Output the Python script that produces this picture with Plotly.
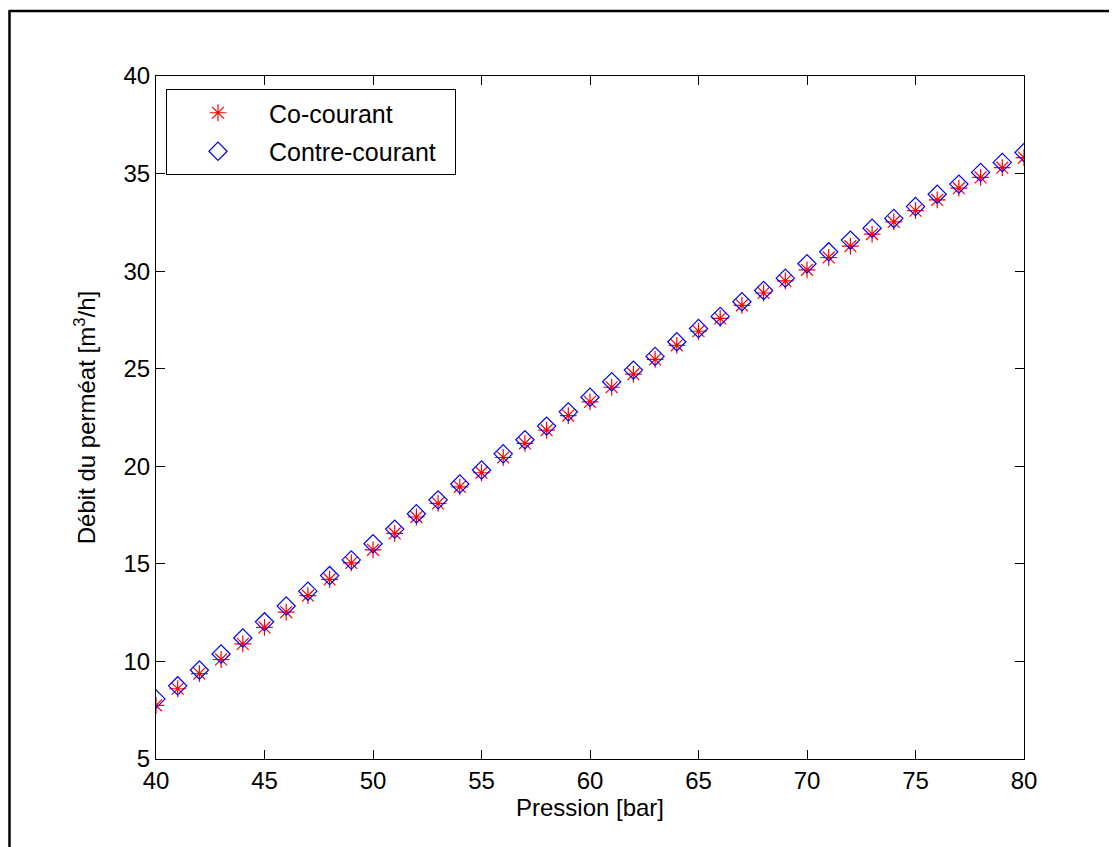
import plotly.graph_objects as go

pression = list(range(40, 81))
co_courant = [7.75, 8.60, 9.38, 10.10, 10.90, 11.74, 12.53, 13.37, 14.20, 15.05,
              15.72, 16.56, 17.40, 18.10, 18.95, 19.67, 20.45, 21.17, 21.85, 22.60,
              23.30, 24.05, 24.72, 25.48, 26.20, 26.92, 27.58, 28.25, 28.88, 29.50,
              30.07, 30.70, 31.28, 31.90, 32.52, 33.10, 33.65, 34.25, 34.80, 35.30,
              35.82]
contre_courant = [8.08, 8.75, 9.56, 10.38, 11.20, 12.03, 12.84, 13.60, 14.40, 15.20,
                  16.03, 16.78, 17.57, 18.28, 19.09, 19.81, 20.64, 21.36, 22.06, 22.79,
                  23.54, 24.33, 24.93, 25.63, 26.38, 27.06, 27.68, 28.43, 29.01, 29.64,
                  30.38, 30.99, 31.59, 32.20, 32.70, 33.31, 33.94, 34.46, 35.06, 35.57,
                  36.08]
x_ticks = [40, 45, 50, 55, 60, 65, 70, 75, 80]
y_ticks = [5, 10, 15, 20, 25, 30, 35, 40]

# page has an 8px body margin; figure coordinates below are page coords - 8
W, H = 1109, 839
L, R, T, B = 148, 1016, 68, 751

fig = go.Figure()
fig.add_trace(go.Scatter(
    x=pression, y=co_courant, mode="markers", name="Co-courant",
    legendgroup="a",
    marker=dict(symbol="asterisk-open", size=14, color="red",
                line=dict(color="red", width=1.2)),
))
fig.add_trace(go.Scatter(
    x=pression, y=contre_courant, mode="markers", name="Contre-courant\u00a0\u00a0",
    legendgroup="b",
    marker=dict(symbol="diamond-open", size=14, color="blue",
                line=dict(color="blue", width=1.2)),
))

def px2paper_x(px):
    return (px - L) / (R - L)

def px2paper_y(py):
    return (B - py) / (B - T)

font_family = "Liberation Sans, Arial, sans-serif"

axis_common = dict(
    showline=True, linecolor="black", linewidth=1, mirror="ticks",
    ticks="inside", ticklen=9, tickcolor="black", tickwidth=1,
    showgrid=False, zeroline=False,
    tickfont=dict(family=font_family, size=24, color="black"),
)

fig.update_layout(
    width=W, height=H,
    margin=dict(l=L, r=W - R, t=T, b=H - B, pad=0),
    paper_bgcolor="white", plot_bgcolor="white",
    font=dict(family=font_family, size=24, color="black"),
    xaxis=dict(range=[40, 80], tickvals=x_ticks,
               title=dict(text="Pression [bar]", font=dict(size=24), standoff=0),
               **axis_common),
    yaxis=dict(range=[5, 40], tickvals=y_ticks,
               title=dict(text="Débit du perméat [m<sup>3</sup>/h]", font=dict(size=24), standoff=21),
               **axis_common),
    legend=dict(x=px2paper_x(158), y=px2paper_y(81), xanchor="left", yanchor="top",
                bordercolor="black", borderwidth=1, bgcolor="white",
                font=dict(family=font_family, size=25, color="black"),
                tracegroupgap=3, itemwidth=92),
    showlegend=True,
)

# outer frame (left and top edges visible)
fig.add_shape(type="line", xref="paper", yref="paper",
              x0=px2paper_x(1.5), x1=px2paper_x(1.5), y0=px2paper_y(3), y1=px2paper_y(860),
              line=dict(color="black", width=2.5))
fig.add_shape(type="line", xref="paper", yref="paper",
              x0=px2paper_x(0.5), x1=px2paper_x(1130), y0=px2paper_y(3), y1=px2paper_y(3),
              line=dict(color="black", width=2.5))

fig.write_html("out.html")
